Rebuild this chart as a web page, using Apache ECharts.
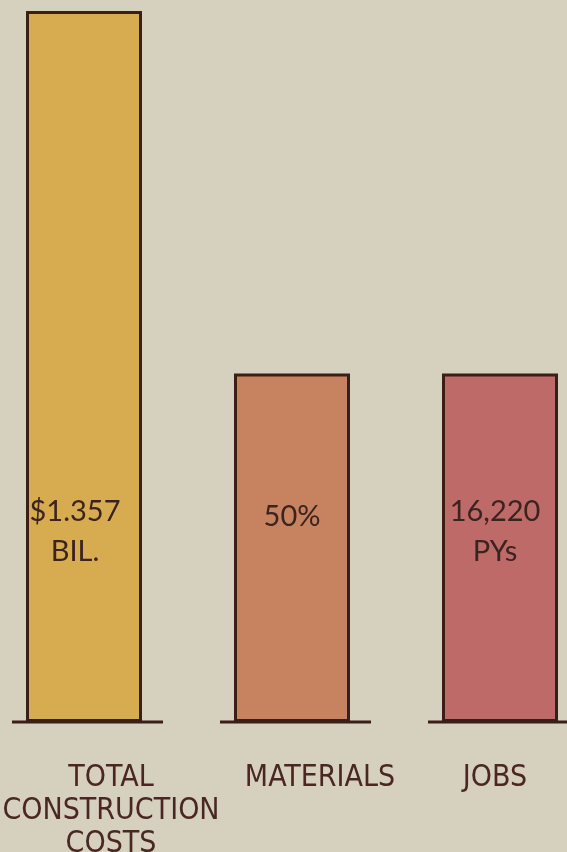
<!DOCTYPE html>
<html>
<head>
<meta charset="utf-8">
<script src="https://cdn.jsdelivr.net/npm/echarts@6/dist/echarts.min.js"></script>
<style>
  html, body { margin: 0; padding: 0; background: #d6d0bf; }
  #chart { width: 567px; height: 852px; }
</style>
</head>
<body>
<div id="chart"></div>
<script>
// values (total = 100, others drawn at about half height)
const categories = ['TOTAL\nCONSTRUCTION\nCOSTS', 'MATERIALS', 'JOBS'];
const values = [100, 49, 49];
const insideLabels = ['$1.357\nBIL.', '50%', '16,220\nPYs'];
const barColors = ['#d7ab50', '#c7835f', '#be6a68'];

// hand lettering is not centred under each bar
const catShift = [54, 56, -10];
const innerShift = [[-9, 0], [0, -15], [-5, 0]];

const ink = '#3a1e18';

const chart = echarts.init(document.getElementById('chart'));

const option = {
  backgroundColor: '#d6d0bf',
  animation: false,
  grid: { left: -20, right: -37, top: 11, bottom: 130, outerBoundsMode: 'none', containLabel: false },
  xAxis: {
    type: 'category',
    data: categories.map((c, i) => ({
      value: c,
      textStyle: {
        padding: catShift[i] > 0 ? [0, 0, 0, catShift[i]] : [0, -catShift[i], 0, 0],
      },
    })),
    axisLine: { show: false },
    axisTick: { show: false },
    axisLabel: {
      interval: 0,
      hideOverlap: false,
      margin: 40,
      color: '#4a2722',
      fontSize: 30,
      lineHeight: 33,
      fontFamily: '"Liberation Sans Narrow", "DejaVu Sans Condensed", "Liberation Sans", sans-serif',
      fontWeight: 'normal',
    },
  },
  yAxis: {
    type: 'value',
    min: 0,
    max: 100,
    show: false,
    splitLine: { show: false },
  },
  series: [
    {
      type: 'custom',
      z: 3,
      renderItem: (params, api) => {
        const p = api.coord([api.value(0), 0]);
        return {
          type: 'line',
          shape: { x1: p[0] - 72, y1: p[1], x2: p[0] + 79, y2: p[1] },
          style: { stroke: ink, lineWidth: 3 },
        };
      },
      data: categories.map((c, i) => [i, 0]),
    },
    {
      type: 'bar',
      barWidth: 116,
      z: 2,
      data: values.map((v, i) => ({
        value: v,
        itemStyle: { color: barColors[i] },
        label: { offset: innerShift[i] },
      })),
      itemStyle: { borderColor: ink, borderWidth: 3 },
      label: {
        show: true,
        position: 'insideBottom',
        distance: 190,
        verticalAlign: 'middle',
        formatter: p => insideLabels[p.dataIndex],
        color: '#3a2420',
        fontSize: 29,
        lineHeight: 40,
        fontFamily: 'Lato, "Liberation Sans", sans-serif',
      },
    },
  ],
};

chart.setOption(option);
</script>
</body>
</html>
